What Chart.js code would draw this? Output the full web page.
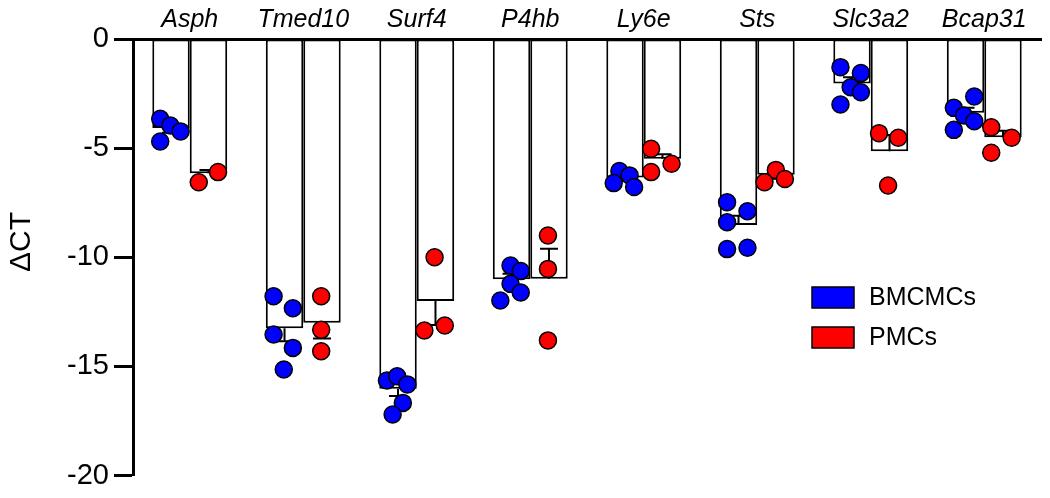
<!DOCTYPE html>
<html>
<head>
<meta charset="utf-8">
<script src="https://cdn.jsdelivr.net/npm/chart.js@4.4.1/dist/chart.umd.min.js"></script>
<style>
  html, body { margin: 0; padding: 0; background: #fff; }
  #wrap { width: 1050px; height: 498px; position: relative; }
  #wrap canvas { position: absolute; left: 0; top: 0; }
</style>
</head>
<body>
<div id="wrap">
  <canvas id="bars" width="1050" height="498"></canvas>
  <canvas id="dots" width="1050" height="498"></canvas>
</div>
<script>
// genes (top labels)
const genes = ['Asph', 'Tmed10', 'Surf4', 'P4hb', 'Ly6e', 'Sts', 'Slc3a2', 'Bcap31'];
const yTicks = [0, -5, -10, -15, -20];

// bar heights (mean dCT)
const bmcmcMean = [-4.08, -13.25, -16.02, -11.0, -6.35, -8.52, -2.04, -3.38];
const pmcMean   = [-6.15, -13.0, -12.0, -10.98, -5.49, -6.22, -5.14, -4.5];

// where each SEM whisker ends
const bmcmcErrEnd = [-4.3, -13.84, -16.35, -10.75, -6.5, -8.1, -1.75, -3.15];
const pmcErrEnd   = [-6.0, -13.72, -13.1, -9.61, -5.28, -6.4, -4.4, -4.2];

// individual replicates
const bmcmcPoints = [
  [-3.63, -3.93, -4.20, -4.66],
  [-11.69, -12.24, -13.43, -14.04, -15.02],
  [-15.52, -15.33, -15.70, -16.54, -17.07],
  [-10.30, -10.55, -11.13, -11.52, -11.89],
  [-6.0, -6.2, -6.55, -6.73],
  [-7.42, -7.83, -8.33, -9.55, -9.49],
  [-1.28, -1.55, -2.19, -2.42, -2.98],
  [-2.61, -3.13, -3.48, -3.74, -4.13]
];
const pmcPoints = [
  [-6.51, -6.05],
  [-11.69, -13.22, -14.19],
  [-9.92, -13.25, -13.02],
  [-8.93, -10.45, -13.70],
  [-4.99, -6.05, -5.67],
  [-5.95, -6.51, -6.36],
  [-4.28, -4.49, -6.66],
  [-4.01, -4.49, -5.17]
];
// horizontal scatter of the replicates, in category units
const bmcmcJitter = [
  [-0.26, -0.17, -0.08, -0.26],
  [-0.26, -0.09, -0.26, -0.09, -0.17],
  [-0.26, -0.17, -0.08, -0.12, -0.21],
  [-0.17, -0.08, -0.17, -0.08, -0.26],
  [-0.21, -0.12, -0.26, -0.08],
  [-0.26, -0.08, -0.26, -0.26, -0.08],
  [-0.26, -0.08, -0.17, -0.08, -0.26],
  [-0.08, -0.26, -0.17, -0.08, -0.26]
];
const pmcJitter = [
  [0.08, 0.25],
  [0.16, 0.16, 0.16],
  [0.16, 0.07, 0.25],
  [0.16, 0.16, 0.16],
  [0.07, 0.07, 0.25],
  [0.17, 0.07, 0.25],
  [0.08, 0.25, 0.16],
  [0.07, 0.25, 0.07]
];

const FONT = "'Liberation Sans', Arial, Helvetica, sans-serif";
// both charts share this plot box
const PAD = { left: 133, top: 39, right: 9, bottom: 19 };

function toXY(points, jitter) {
  const out = [];
  points.forEach((vals, i) => {
    vals.forEach((v, k) => out.push({x: i + jitter[i][k], y: v}));
  });
  return out;
}

// SEM whiskers
const errorBars = {
  id: 'errorBars',
  afterDatasetDraw(chart, args) {
    const ds = chart.data.datasets[args.index];
    if (!ds.errEnd) return;
    const ctx = chart.ctx;
    const y = chart.scales.y;
    ctx.save();
    ctx.strokeStyle = '#000';
    ctx.lineWidth = 2;
    args.meta.data.forEach((bar, i) => {
      const y0 = y.getPixelForValue(ds.data[i]);
      const y1 = y.getPixelForValue(ds.errEnd[i]);
      ctx.beginPath();
      ctx.moveTo(bar.x, y0);
      ctx.lineTo(bar.x, y1);
      ctx.moveTo(bar.x - 9, y1);
      ctx.lineTo(bar.x + 9, y1);
      ctx.stroke();
    });
    ctx.restore();
  }
};

// y title + legend at right
const extras = {
  id: 'extras',
  afterDraw(chart) {
    const ctx = chart.ctx;
    ctx.save();
    ctx.fillStyle = '#000';
    ctx.font = '30px ' + FONT;
    ctx.textAlign = 'center';
    ctx.textBaseline = 'middle';
    ctx.translate(22, 242);
    ctx.rotate(-Math.PI / 2);
    ctx.fillText('\u0394CT', 0, 0);
    ctx.restore();

    ctx.save();
    ctx.font = '25px ' + FONT;
    ctx.textAlign = 'left';
    ctx.textBaseline = 'middle';
    chart.data.datasets.forEach((d, k) => {
      const top = 287 + k * 40;
      ctx.fillStyle = d.legendColor;
      ctx.fillRect(812, top, 42, 21);
      ctx.strokeStyle = '#000';
      ctx.lineWidth = 1.5;
      ctx.strokeRect(812, top, 42, 21);
      ctx.fillStyle = '#000';
      ctx.fillText(d.label, 869, top + 11);
    });
    ctx.restore();
  }
};

// bars + axes
new Chart(document.getElementById('bars'), {
  type: 'bar',
  data: {
    labels: genes,
    datasets: [
      {
        label: 'BMCMCs', data: bmcmcMean, errEnd: bmcmcErrEnd, legendColor: '#0000ff',
        backgroundColor: '#ffffff', borderColor: '#000000', borderWidth: 2, borderSkipped: false
      },
      {
        label: 'PMCs', data: pmcMean, errEnd: pmcErrEnd, legendColor: '#ff0000',
        backgroundColor: '#ffffff', borderColor: '#000000', borderWidth: 2, borderSkipped: false
      }
    ]
  },
  options: {
    responsive: false,
    animation: false,
    layout: { padding: { left: 0, top: 0, right: PAD.right, bottom: PAD.bottom } },
    datasets: { bar: { categoryPercentage: 0.66, barPercentage: 1.0 } },
    plugins: { legend: { display: false }, tooltip: { enabled: false } },
    scales: {
      x: {
        position: 'top',
        grid: { display: false, drawTicks: false },
        border: { display: true, color: '#000', width: 3 },
        ticks: { color: '#000', padding: 4, font: { family: FONT, size: 25, style: 'italic' } },
        afterFit(s) { s.height = PAD.top; }
      },
      y: {
        min: -20, max: 0,
        afterBuildTicks(s) { s.ticks = yTicks.map(v => ({value: v})); },
        grid: { drawOnChartArea: false, drawTicks: true, tickLength: 19, tickWidth: 3, tickColor: '#000' },
        border: { display: true, color: '#000', width: 3 },
        ticks: { color: '#000', padding: 5, font: { family: FONT, size: 29 } },
        afterFit(s) { s.width = PAD.left; }
      }
    }
  },
  plugins: [errorBars, extras]
});

// replicate dots on a transparent chart laid over the same plot box
new Chart(document.getElementById('dots'), {
  type: 'scatter',
  data: {
    datasets: [
      {
        label: 'BMCMCs', data: toXY(bmcmcPoints, bmcmcJitter),
        backgroundColor: '#0000ff', borderColor: '#000000', borderWidth: 1.5, pointRadius: 8.5
      },
      {
        label: 'PMCs', data: toXY(pmcPoints, pmcJitter),
        backgroundColor: '#ff0000', borderColor: '#000000', borderWidth: 1.5, pointRadius: 8.5
      }
    ]
  },
  options: {
    responsive: false,
    animation: false,
    layout: { padding: PAD },
    plugins: { legend: { display: false }, tooltip: { enabled: false } },
    scales: {
      x: { type: 'linear', display: false, min: -0.5, max: 7.5 },
      y: { type: 'linear', display: false, min: -20, max: 0 }
    }
  }
});
</script>
</body>
</html>
